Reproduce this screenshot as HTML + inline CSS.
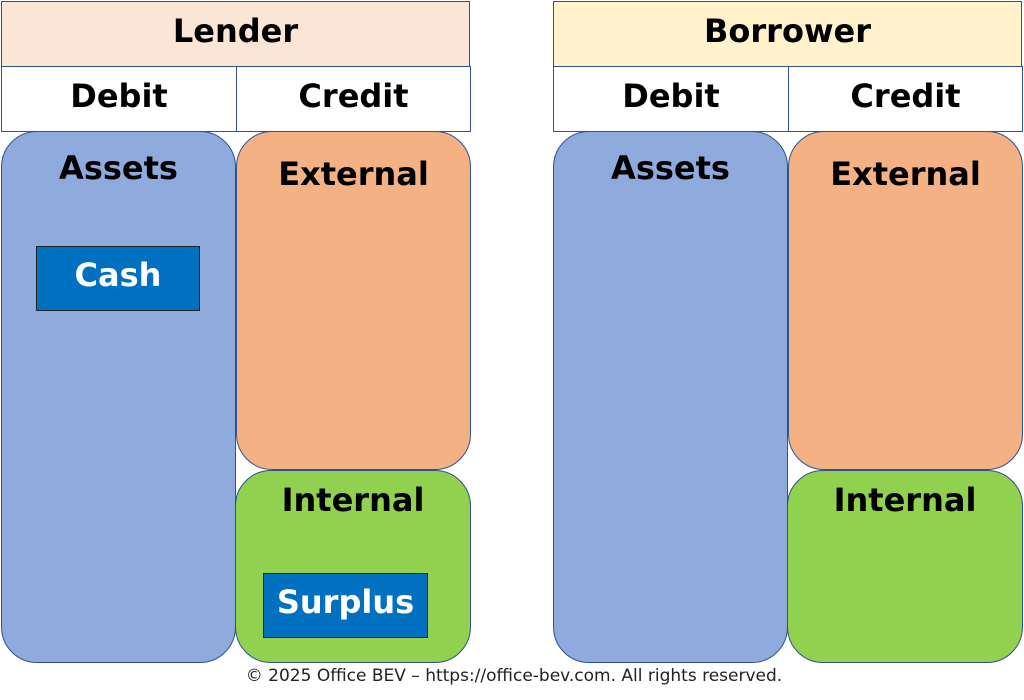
<!DOCTYPE html>
<html><head><style>
body{margin:0;width:1024px;height:700px;background:#fff;position:relative;overflow:hidden;font-family:"DejaVu Sans","Liberation Sans",sans-serif}
.b{position:absolute;box-sizing:border-box;border:1.5px solid #2f528f;display:flex;justify-content:center;font-weight:bold;font-size:32px;color:#000}
.h{align-items:center;padding-bottom:6px}
.r{border-radius:36px}
.c{align-items:center;background:#0070c0;color:#fff;border:1.5px solid #222;font-size:32px;padding-bottom:7px}
</style></head><body>
<div class="b h" style="left:1px;top:1px;width:469px;height:66px;background:#fbe5d6">Lender</div>
<div class="b h" style="left:1px;top:66px;width:236px;height:66px;background:#fff">Debit</div>
<div class="b h" style="left:236px;top:66px;width:235px;height:66px;background:#fff">Credit</div>
<div class="b r" style="left:1px;top:131px;width:235px;height:532px;background:#8faadc;padding-top:17px">Assets</div>
<div class="b r" style="left:236px;top:131px;width:235px;height:339px;background:#f4b183;padding-top:23px">External</div>
<div class="b r" style="left:235px;top:470px;width:236px;height:193px;background:#92d050;padding-top:10px">Internal</div>
<div class="b c" style="left:36px;top:246px;width:164px;height:65px">Cash</div>
<div class="b c" style="left:263px;top:573px;width:165px;height:65px">Surplus</div>

<div class="b h" style="left:553px;top:1px;width:469px;height:66px;background:#fff2cc">Borrower</div>
<div class="b h" style="left:553px;top:66px;width:236px;height:66px;background:#fff">Debit</div>
<div class="b h" style="left:788px;top:66px;width:235px;height:66px;background:#fff">Credit</div>
<div class="b r" style="left:553px;top:131px;width:235px;height:532px;background:#8faadc;padding-top:17px">Assets</div>
<div class="b r" style="left:788px;top:131px;width:235px;height:339px;background:#f4b183;padding-top:23px">External</div>
<div class="b r" style="left:787px;top:470px;width:236px;height:193px;background:#92d050;padding-top:10px">Internal</div>

<div style="position:absolute;left:0;width:1028px;top:666px;text-align:center;font-size:17px;color:#222">© 2025 Office BEV – https://office-bev.com. All rights reserved.</div>
</body></html>
